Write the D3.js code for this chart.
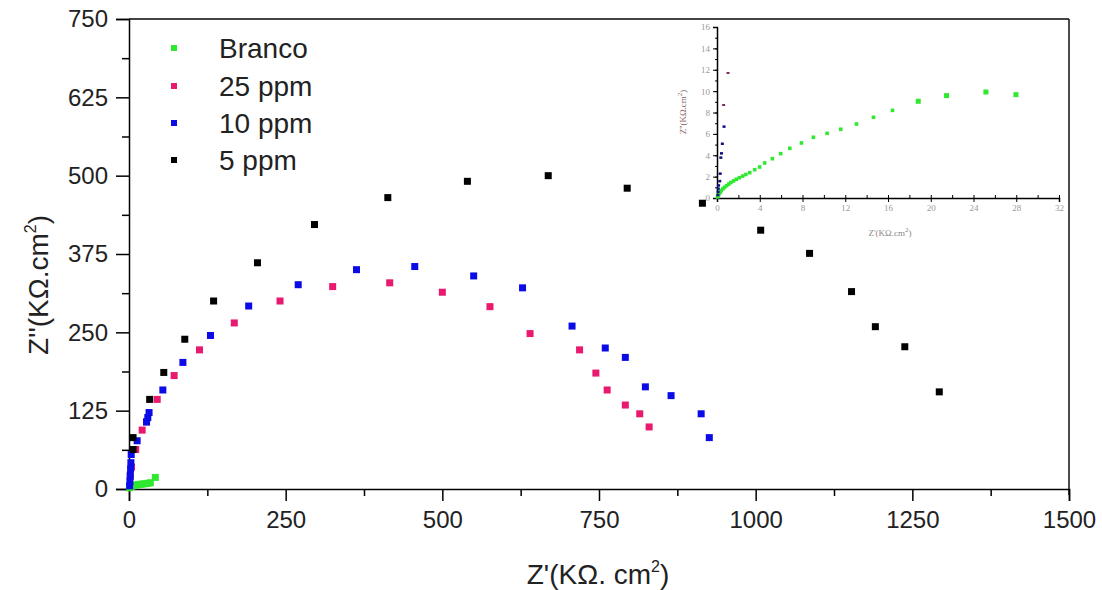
<!DOCTYPE html>
<html>
<head>
<meta charset="utf-8">
<script src="https://cdn.jsdelivr.net/npm/d3@7"></script>
<style>
  body { margin: 0; background: #fff; }
  svg { font-family: "Liberation Sans", Arial, sans-serif; }
</style>
</head>
<body>
<svg id="chart" width="1102" height="590"></svg>
<script>
// series: [Z', Z''] in KOhm.cm2
const branco = [[1, 2], [3, 4], [6, 5], [10, 6], [14, 7], [18, 7.5], [22, 8], [26, 8.5], [30, 9], [34, 10], [42, 18.5]];
const ppm25 = [[2, 20], [4, 35], [10.7, 63], [21, 94], [28, 107], [45, 143], [72, 181], [112.5, 222], [168, 265], [241, 300],
  [325, 323], [416, 329], [500, 314], [576, 291], [640, 248], [719, 222], [745, 185], [763, 158], [792, 134], [815, 120], [830, 99]];
const ppm10 = [[1, 5], [1.5, 12], [2, 22], [2.5, 32], [3, 42], [3.5, 55], [13, 77], [28, 107], [30, 114], [32, 122], [54, 158],
  [86, 202], [130, 245], [191, 292], [270, 326], [363, 350], [456, 355], [550, 340], [628, 321], [707, 260], [760, 225],
  [792, 210], [824, 163], [865, 149], [913, 120], [926, 82]];
const ppm5 = [[6.5, 63], [6.5, 82], [33, 143], [55.5, 186], [89, 239], [135, 300], [205, 361], [296, 422], [413, 465], [540, 491],
  [669, 500], [795, 480], [915, 456], [1008, 413], [1086, 376], [1153, 315], [1191, 259], [1238, 227], [1293, 155]];

// inset data (zoom on Branco)
const insetBranco = [[0.05, 0.1], [0.12, 0.25], [0.2, 0.4], [0.3, 0.55], [0.4, 0.7], [0.55, 0.85], [0.7, 1.0], [0.9, 1.15],
  [1.1, 1.3], [1.3, 1.45], [1.55, 1.6], [1.8, 1.75], [2.1, 1.9], [2.4, 2.05], [2.7, 2.2], [3.06, 2.37], [3.53, 2.65],
  [3.99, 2.9], [4.46, 3.28], [5.18, 3.68], [5.96, 4.15], [6.81, 4.65], [7.9, 5.15], [9.02, 5.68], [10.3, 6.05],
  [11.58, 6.43], [13.05, 6.92], [14.64, 7.55], [16.42, 8.2], [18.83, 9.05], [21.48, 9.58], [25.16, 9.92], [27.97, 9.67]];
const insetPpm25 = [[1.03, 11.7], [0.62, 8.7]];
const insetPpm10 = [[0.66, 6.7], [0.5, 5.1], [0.42, 4.2], [0.36, 3.8], [0.3, 2.3], [0.26, 1.6], [0.15, 1.2], [0.12, 0.9], [0.1, 0.6], [0.08, 0.3]];

const xTicks = [0, 250, 500, 750, 1000, 1250, 1500];
const yTicks = [0, 125, 250, 375, 500, 625, 750];
const insetXTicks = [0, 4, 8, 12, 16, 20, 24, 28, 32];
const insetYTicks = [0, 2, 4, 6, 8, 10, 12, 14, 16];

const legendNames = ["Branco", "25 ppm", "10 ppm", "5 ppm"];
const colors = ["#2fe82f", "#e8196e", "#0b0be8", "#000000"];

const svg = d3.select("#chart");

const x = d3.scaleLinear().domain([0, 1500]).range([129, 1069]);
const y = d3.scaleLinear().domain([0, 750]).range([489, 19]);

// frame top / right
svg.append("line").attr("x1", 129).attr("x2", 1069).attr("y1", 19).attr("y2", 19)
  .attr("stroke", "#444").attr("stroke-width", 2);
svg.append("line").attr("x1", 1069).attr("x2", 1069).attr("y1", 19).attr("y2", 495)
  .attr("stroke", "#111").attr("stroke-width", 1.5);

// inset
const ix = d3.scaleLinear().domain([0, 32]).range([717, 1059]);
const iy = d3.scaleLinear().domain([0, 16]).range([198, 27]);
const inset = svg.append("g");

inset.append("g").attr("transform", "translate(0,198)")
  .call(d3.axisBottom(ix).tickValues(d3.range(0, 33, 2)).tickSize(-3).tickFormat(""))
  .call(g => g.selectAll("line").attr("stroke", "#000"))
  .call(g => g.select(".domain").remove());
inset.append("g").attr("transform", "translate(0,198)")
  .call(d3.axisBottom(ix).tickValues(insetXTicks).tickSize(4).tickPadding(3))
  .call(g => g.select(".domain").attr("stroke-width", 1.5))
  .call(g => g.selectAll("text").attr("font-size", 9).attr("fill", "#999").attr("font-family", "Liberation Serif"));
inset.append("g").attr("transform", "translate(717,0)")
  .call(d3.axisLeft(iy).tickValues(d3.range(0, 17, 1)).tickSize(2).tickFormat(""))
  .call(g => g.select(".domain").remove());
inset.append("g").attr("transform", "translate(717,0)")
  .call(d3.axisLeft(iy).tickValues(insetYTicks).tickSize(4).tickPadding(3))
  .call(g => g.select(".domain").attr("stroke-width", 1.5))
  .call(g => g.selectAll("text").attr("font-size", 9).attr("fill", "#999").attr("font-family", "Liberation Serif"));

inset.append("text").attr("x", 890).attr("y", 236).attr("text-anchor", "middle")
  .attr("font-size", 9).attr("fill", "#888").attr("font-family", "Liberation Serif")
  .html("Z'(KΩ.cm<tspan dy='-4' font-size='7'>2</tspan><tspan dy='4'>)</tspan>");
inset.append("text").attr("transform", "translate(686,112) rotate(-90)").attr("text-anchor", "middle")
  .attr("font-size", 9).attr("fill", "#8a6464").attr("font-family", "Liberation Serif")
  .html("Z''(KΩ.cm<tspan dy='-4' font-size='7'>2</tspan><tspan dy='4'>)</tspan>");

inset.selectAll(".ib").data(insetBranco).enter().append("rect")
  .attr("x", d => ix(d[0]) - (d[0] > 18 ? 2.5 : 1.8))
  .attr("y", d => iy(d[1]) - (d[0] > 18 ? 2.5 : 1.8))
  .attr("width", d => d[0] > 18 ? 5 : 3.6).attr("height", d => d[0] > 18 ? 5 : 3.6)
  .attr("fill", colors[0]);
inset.selectAll(".ip").data(insetPpm25).enter().append("rect")
  .attr("x", d => ix(d[0]) - 1.5).attr("y", d => iy(d[1]) - 1).attr("width", 3).attr("height", 2)
  .attr("fill", "#7a2a5a");
inset.selectAll(".iq").data(insetPpm10).enter().append("rect")
  .attr("x", d => ix(d[0]) - 1.5).attr("y", d => iy(d[1]) - 1).attr("width", 3).attr("height", 2.5)
  .attr("fill", "#101080");

// main axes
svg.append("g").attr("transform", "translate(0,489)")
  .call(d3.axisBottom(x).tickValues(d3.range(125, 1500, 250)).tickSize(7).tickFormat(""))
  .call(g => g.select(".domain").remove())
  .call(g => g.selectAll("line").attr("stroke-width", 1.5));
svg.append("g").attr("transform", "translate(0,489)")
  .call(d3.axisBottom(x).tickValues(xTicks).tickSize(12).tickPadding(10).tickFormat(d3.format("d")))
  .call(g => g.select(".domain").attr("stroke-width", 1.5))
  .call(g => g.selectAll("line").attr("stroke-width", 1.5))
  .call(g => g.selectAll("text").attr("font-size", 24).attr("fill", "#222")
    .attr("font-family", "Liberation Sans"));

svg.append("g").attr("transform", "translate(129,0)")
  .call(d3.axisLeft(y).tickValues(d3.range(62.5, 750, 125)).tickSize(7).tickFormat(""))
  .call(g => g.select(".domain").remove())
  .call(g => g.selectAll("line").attr("stroke-width", 1.5));
svg.append("g").attr("transform", "translate(129,0)")
  .call(d3.axisLeft(y).tickValues(yTicks).tickSize(13).tickPadding(8).tickFormat(d3.format("d")))
  .call(g => g.select(".domain").attr("stroke-width", 1.5))
  .call(g => g.selectAll("line").attr("stroke-width", 1.5))
  .call(g => g.selectAll("text").attr("font-size", 24).attr("fill", "#222")
    .attr("font-family", "Liberation Sans"));

// axis titles
svg.append("text").attr("x", 598).attr("y", 584).attr("text-anchor", "middle")
  .attr("font-size", 28).attr("fill", "#222")
  .html("Z'(KΩ. cm<tspan dy='-12' font-size='16'>2</tspan><tspan dy='12'>)</tspan>");
svg.append("text").attr("transform", "translate(48,285) rotate(-90)").attr("text-anchor", "middle")
  .attr("font-size", 28).attr("fill", "#222")
  .html("Z''(KΩ.cm<tspan dy='-12' font-size='16'>2</tspan><tspan dy='12'>)</tspan>");

// points
const series = [branco, ppm25, ppm10, ppm5];
series.forEach((s, i) => {
  svg.selectAll(null).data(s).enter().append("rect")
    .attr("x", d => x(d[0]) - 3.5)
    .attr("y", d => y(d[1]) - 3.5)
    .attr("width", 7).attr("height", 7)
    .attr("fill", colors[i]);
});

// legend
const legendY = [48, 86, 123, 160];
legendNames.forEach((n, i) => {
  svg.append("rect").attr("x", 171).attr("y", legendY[i] - 3).attr("width", 6).attr("height", 6)
    .attr("fill", colors[i]);
  svg.append("text").attr("x", 219).attr("y", legendY[i] + 10)
    .attr("font-size", 28).attr("fill", "#222").text(n);
});
</script>
</body>
</html>
